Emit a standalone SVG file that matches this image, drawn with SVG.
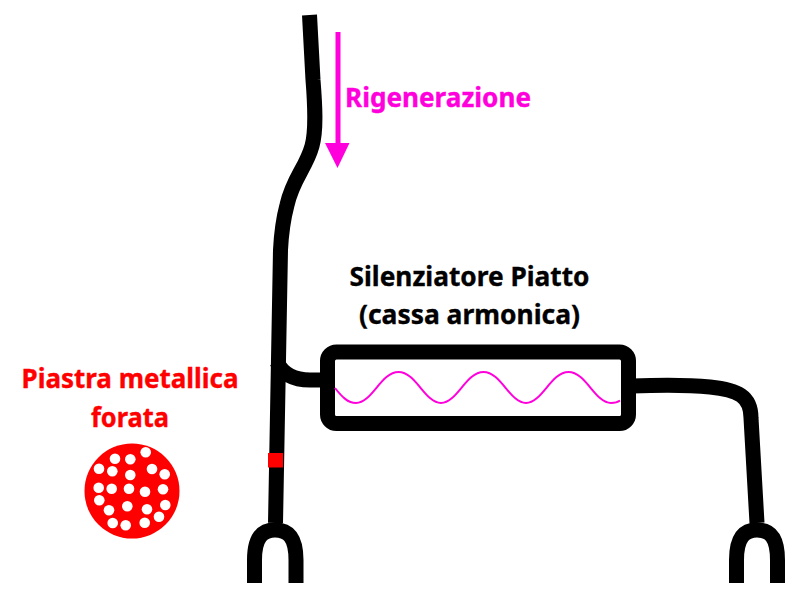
<svg xmlns="http://www.w3.org/2000/svg" width="800" height="597" viewBox="0 0 800 597">
<style>
.pipe{fill:none;stroke:#000;stroke-width:15}
.wave{fill:none;stroke:#f0d;stroke-width:2}
.hole{fill:#fff}
text{font-family:"Noto Sans","Open Sans","Liberation Sans",sans-serif;font-weight:700;font-size:26px;text-anchor:middle;stroke-width:.35px}
.k{fill:#000;stroke:#000}
.r{fill:#f00;stroke:#f00}
.m{fill:#f0d;stroke:#f0d}
</style>
<rect width="800" height="597" fill="#fff"/>
<g id="connectors">
<path class="pipe" d="M309.500,15 L313,80 C315,105 316.500,130 312,146 C306,168 293,178 287,205 C283,220 281,240 280.500,250 L275.500,523"/>
<path class="pipe" d="M277,362 C283,375 295,380 310,380 L325,380"/>
<path class="pipe" d="M254.500,583 L254.500,560 C254.500,537 263,530 275,530 C288,530 296,537 296,560 L296,583"/>
<path class="pipe" d="M632,386 C660,385 690,385 710,387 C738,390 751,396 751,418 L757,523"/>
<path class="pipe" d="M736.500,583 L736.500,560 C736.500,537 745,530 757,530 C770,530 777.500,537 777.500,560 L777.500,583"/>
</g>
<g id="valve"><rect x="268" y="453" width="15" height="14.500" fill="#f00"/></g>
<g id="arrow">
<path d="M338,32 V145" fill="none" stroke="#f0d" stroke-width="5"/>
<path d="M325,143 H349.500 L337.500,168 Z" fill="#f0d"/>
</g>
<g id="label-rigenerazione"><text class="m" x="438" y="107" textLength="186" lengthAdjust="spacingAndGlyphs">Rigenerazione</text></g>
<g id="silenziatore">
<rect class="pipe" x="327.500" y="352" width="301" height="71.500" rx="9" ry="9"/>
<path class="wave" d="M335,388 C342,397 348,403 356,403 C372,403 381,372 398.500,372 C416,372 425,403 441,403 C457,403 466,372 483.500,372 C501,372 510,403 526,403 C542,403 551,372 568.500,372 C586,372 595,403 611,403 C615,403 618,402 620,400.500"/>
<text class="k" x="469.500" y="285.500" textLength="240" lengthAdjust="spacingAndGlyphs">Silenziatore Piatto</text>
<text class="k" x="469.500" y="324" textLength="221" lengthAdjust="spacingAndGlyphs">(cassa armonica)</text>
</g>
<g id="piastra">
<text class="r" x="130" y="388" textLength="217" lengthAdjust="spacingAndGlyphs">Piastra metallica</text>
<text class="r" x="130" y="427" textLength="78" lengthAdjust="spacingAndGlyphs">forata</text>
<circle cx="132" cy="491" r="47.500" fill="#f00"/>
<g class="hole">
<circle cx="145.700" cy="452.300" r="5.300"/><circle cx="115" cy="458.700" r="5.300"/><circle cx="130.300" cy="459.300" r="5.300"/><circle cx="99" cy="468.700" r="5.300"/><circle cx="112.300" cy="471.300" r="5.300"/><circle cx="152" cy="469" r="5.300"/><circle cx="164.700" cy="474.300" r="5.300"/><circle cx="130.300" cy="475" r="5.300"/><circle cx="98.700" cy="487.700" r="5.300"/><circle cx="111.700" cy="488.700" r="5.300"/><circle cx="129" cy="488.700" r="5.300"/><circle cx="145" cy="491.700" r="5.300"/><circle cx="163" cy="489.300" r="5.300"/><circle cx="99.300" cy="500.300" r="5.300"/><circle cx="165.300" cy="505" r="5.300"/><circle cx="127.300" cy="506.300" r="5.300"/><circle cx="109" cy="510.300" r="5.300"/><circle cx="147" cy="509.300" r="5.300"/><circle cx="159" cy="516.700" r="5.300"/><circle cx="112.700" cy="523" r="5.300"/><circle cx="125.700" cy="525.300" r="5.300"/><circle cx="144.700" cy="522.700" r="5.300"/>
</g>
</g>
</svg>
